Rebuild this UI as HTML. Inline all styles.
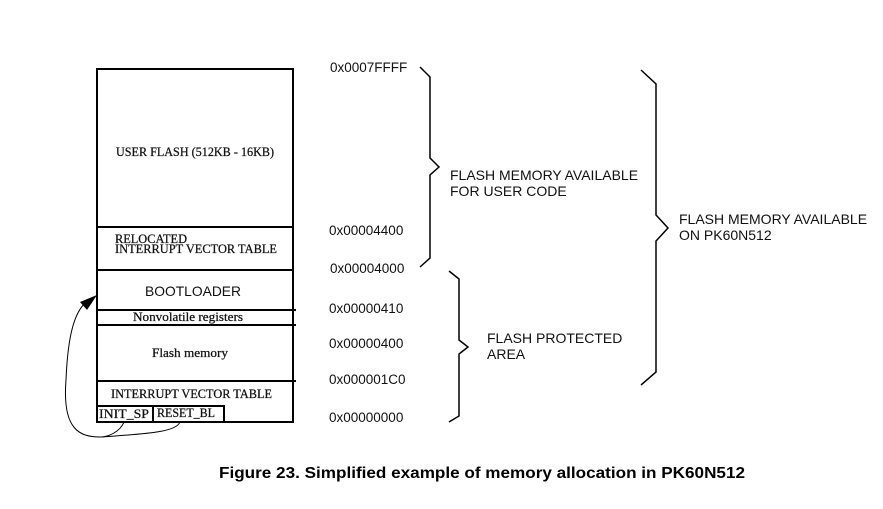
<!DOCTYPE html>
<html><head><style>
html,body{margin:0;padding:0;background:#fff;}
svg{display:block;}
.s{font-family:"Liberation Serif",serif;font-size:12.3px;fill:#111;stroke:#111;stroke-width:0.25;}
.a{font-family:"Liberation Sans",sans-serif;font-size:14px;fill:#111;}
.d{font-family:"Liberation Sans",sans-serif;font-size:13.5px;fill:#111;}
</style></head><body>
<svg width="883" height="509" viewBox="0 0 883 509" xmlns="http://www.w3.org/2000/svg">
<g stroke="#000" stroke-width="2" fill="none">
<rect x="97" y="69" width="196" height="353"/>
<line x1="97" y1="227" x2="293" y2="227"/>
<line x1="97" y1="270" x2="293" y2="270"/>
<line x1="97" y1="310" x2="296" y2="310"/>
<line x1="97" y1="325" x2="296" y2="325"/>
<line x1="97" y1="381" x2="296" y2="381"/>
<rect x="97" y="406" width="56" height="16"/>
<rect x="153" y="406" width="71" height="16"/>
</g>
<g stroke="#000" stroke-width="1.5" fill="none">
<polyline points="420,67 430,77 430,158 439,167 430,175 430,258 420,267"/>
<polyline points="449,271 459,279 459,340 468,347 459,354 459,416 449,422"/>
<polyline points="641,70 656,84 656,215 668,228 656,241 656,372 641,385"/>
</g>
<g stroke="#000" stroke-width="1" fill="none">
<path d="M124,422 C120,432 108,437 100,437 C80,437 62,430 66,380 C68,330 76,312 85,303"/>
<path d="M180,422 C176,433 140,434 102,437"/>
</g>
<polygon points="97,295 80,302 87,310" fill="#000"/>
<text class="s" x="116" y="156" textLength="158" lengthAdjust="spacingAndGlyphs">USER FLASH (512KB - 16KB)</text>
<text class="s" x="115" y="243" textLength="72" lengthAdjust="spacingAndGlyphs">RELOCATED</text>
<text class="s" x="115" y="253" textLength="162" lengthAdjust="spacingAndGlyphs">INTERRUPT VECTOR TABLE</text>
<text class="a" x="145" y="296" textLength="96" lengthAdjust="spacingAndGlyphs">BOOTLOADER</text>
<text class="s" x="133" y="321" textLength="110" lengthAdjust="spacingAndGlyphs">Nonvolatile registers</text>
<text class="s" x="152" y="357" textLength="76" lengthAdjust="spacingAndGlyphs">Flash memory</text>
<text class="s" x="111" y="398" textLength="161" lengthAdjust="spacingAndGlyphs">INTERRUPT VECTOR TABLE</text>
<text class="s" x="99" y="418" textLength="50" lengthAdjust="spacingAndGlyphs">INIT_SP</text>
<text class="s" x="157" y="417" textLength="58" lengthAdjust="spacingAndGlyphs">RESET_BL</text>
<text class="d" x="330" y="72">0x0007FFFF</text>
<text class="d" x="329" y="235">0x00004400</text>
<text class="d" x="330" y="273">0x00004000</text>
<text class="d" x="329" y="313">0x00000410</text>
<text class="d" x="329" y="348">0x00000400</text>
<text class="d" x="329" y="384">0x000001C0</text>
<text class="d" x="329" y="422">0x00000000</text>
<text class="a" x="450" y="180">FLASH MEMORY AVAILABLE</text>
<text class="a" x="450" y="196">FOR USER CODE</text>
<text class="a" x="487" y="343">FLASH PROTECTED</text>
<text class="a" x="487" y="359">AREA</text>
<text class="a" x="679" y="224">FLASH MEMORY AVAILABLE</text>
<text class="a" x="679" y="240">ON PK60N512</text>
<text x="219" y="478" textLength="526" lengthAdjust="spacingAndGlyphs" style="font-family:'Liberation Sans',sans-serif;font-size:16px;font-weight:bold;fill:#000">Figure 23. Simplified example of memory allocation in PK60N512</text>
</svg>
</body></html>
